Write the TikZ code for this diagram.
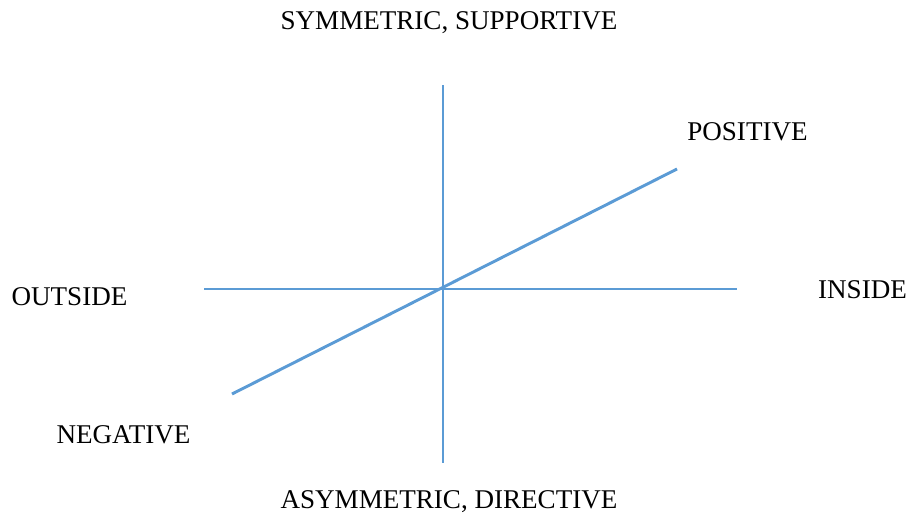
\documentclass[tikz,border=0pt]{standalone}
\usepackage{fontspec}
\setmainfont{Liberation Serif}
\usepackage{tikz}
\definecolor{axisblue}{RGB}{91,155,213}

\begin{document}
\begin{tikzpicture}[x=0.75pt,y=-0.75pt,every node/.style={font=\fontsize{20.3}{24}\selectfont,inner sep=0pt,anchor=base},axis/.style={axisblue,line width=2.2pt}]
\useasboundingbox (0,0) rectangle (915,518);

% Axis end points
\coordinate (top) at (443,85);
\coordinate (bottom) at (443,463);
\coordinate (left) at (204,289);
\coordinate (right) at (737,289);
\coordinate (neg) at (232,394);
\coordinate (pos) at (677,169);

% Axes
\draw[axis] (top) -- (bottom);
\draw[axis] (left) -- (right);
\draw[axis] (neg) -- (pos);

% Labels
\node (sym) at (449,29) {SYMMETRIC, SUPPORTIVE};
\node (asym) at (449,508) {ASYMMETRIC, DIRECTIVE};
\node (outside) at (69.5,305) {OUTSIDE};
\node (inside) at (862.5,298) {INSIDE};
\node (positive) at (747.5,140) {POSITIVE};
\node (negative) at (123.5,443) {NEGATIVE};
\end{tikzpicture}
\end{document}
